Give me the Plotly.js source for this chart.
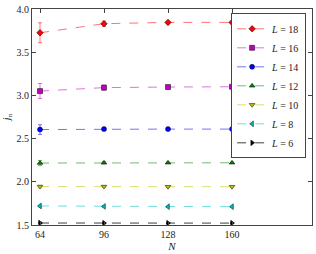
<!DOCTYPE html>
<html><head><meta charset="utf-8">
<script src="https://cdn.plot.ly/plotly-3.0.1.min.js"></script>
<style>html,body{margin:0;padding:0;background:#fff}#plot{width:316px;height:254px}</style>
</head><body><div id="plot"></div>
<script>
const N = [64, 96, 128, 160];
const labels = ["L = 18", "L = 16", "L = 14", "L = 12", "L = 10", "L = 8", "L = 6"];
const jL18 = [3.725, 3.83, 3.845, 3.845];
const jL16 = [3.05, 3.09, 3.097, 3.10];
const jL14 = [2.605, 2.61, 2.61, 2.61];
const jL12 = [2.217, 2.22, 2.22, 2.22];
const jL10 = [1.945, 1.945, 1.943, 1.943];
const jL8 = [1.72, 1.715, 1.712, 1.712];
const jL6 = [1.523, 1.522, 1.522, 1.522];
const eL18 = [0.115, 0.03, 0.008, 0.008];
const eL16 = [0.087, 0.03, 0.008, 0.008];
const eL14 = [0.056, 0.015, 0.005, 0.005];
const eL12 = [0.03, 0.012, 0.005, 0.005];
const eL10 = [0.015, 0.01, 0.004, 0.004];
const eL8 = [0.01, 0.008, 0.004, 0.004];
const eL6 = [0.008, 0.006, 0.003, 0.003];
const series = [jL18, jL16, jL14, jL12, jL10, jL8, jL6];
const errs = [eL18, eL16, eL14, eL12, eL10, eL8, eL6];
const colors = ["#ff0000", "#bf00bf", "#0000ff", "#008000", "#bfbf00", "#00bfbf", "#000000"];
const lineColors = ["rgba(255,0,0,0.55)", "rgba(191,0,191,0.55)", "rgba(0,0,255,0.55)", "rgba(0,128,0,0.55)", "rgba(191,191,0,0.55)", "rgba(0,191,191,0.55)", "rgba(0,0,0,0.75)"];
const symbols = ["diamond", "square", "circle", "triangle-up", "triangle-down", "triangle-left", "triangle-right"];

const traces = series.map((y, i) => ({
  x: N, y: y, type: 'scatter', mode: 'lines+markers', name: '<i>L</i> = ' + labels[i].split('= ')[1],
  line: {color: lineColors[i], dash: 'dash', width: 1},
  marker: {color: colors[i], symbol: symbols[i], size: 5, line: {color: '#000', width: 0.5}},
  error_y: {type: 'data', array: errs[i], visible: true, color: lineColors[i], thickness: 1, width: 2}
}));

const font = {family: 'Liberation Serif, DejaVu Serif, serif', size: 10, color: '#222'};
Plotly.newPlot('plot', traces, {
  width: 316, height: 254,
  margin: {l: 32, r: 4, t: 9, b: 29},
  paper_bgcolor: '#fff', plot_bgcolor: '#fff',
  font: font,
  showlegend: true,
  legend: {x: 0.979, xanchor: 'right', y: 0.98, yanchor: 'top', bordercolor: '#444', borderwidth: 1,
           bgcolor: '#fff', font: {family: font.family, size: 10, color: '#222'}, tracegroupgap: 0, itemwidth: 30},
  xaxis: {range: [60, 200], tickvals: N, ticktext: N.map(String), ticks: 'inside', ticklen: 4, tickcolor: '#444',
          showline: true, mirror: 'ticks', linecolor: '#444', linewidth: 1, showgrid: false, zeroline: false,
          title: {text: '<i>N</i>', standoff: 2, font: {family: font.family, size: 11}}},
  yaxis: {range: [1.5, 4.0], tickvals: [1.5, 2.0, 2.5, 3.0, 3.5, 4.0], ticktext: ['1.5', '2.0', '2.5', '3.0', '3.5', '4.0'],
          ticks: 'inside', ticklen: 4, tickcolor: '#444',
          showline: true, mirror: 'ticks', linecolor: '#444', linewidth: 1, showgrid: false, zeroline: false,
          title: {text: '<i>j</i><sub>n</sub>', standoff: 4, font: {family: font.family, size: 10}}}
}, {displayModeBar: false, staticPlot: true});
</script></body></html>
